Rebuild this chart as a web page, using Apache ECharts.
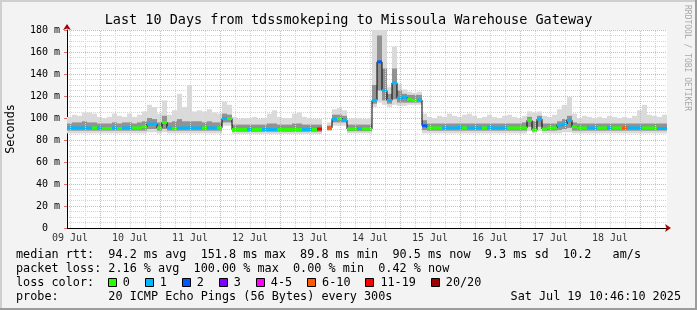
<!DOCTYPE html>
<html><head><meta charset="utf-8">
<script src="https://cdn.jsdelivr.net/npm/echarts@6/dist/echarts.min.js"></script>
<style>html,body{margin:0;padding:0;background:#f3f3f3}#c{width:697px;height:310px}</style>
</head><body><div id="c"></div>
<script>
// time in hours since 09 Jul 00:00
const startHour = 10 + 46/60 + 10/3600;   // Sat Jul 09 10:46:10
const spanHours = 240;                   // 10 days
const binHours = 2;
const dayLabels = ['09 Jul','10 Jul','11 Jul','12 Jul','13 Jul','14 Jul','15 Jul','16 Jul','17 Jul','18 Jul'];
const yMax = 180, yStep = 20;

const median = [
 91,91,91,91,91,91,91,90.5,90.5,91,90.5,91,91,91,91,92,94.5,94.5,91,96,91,90.5,91,91,91,91,91,91,91,91,91,
 99.5,99.5,
 89.5,89.5,89.5,89.5,89.5,89.5,89.5,89.5,89.5,89.5,89.5,89.5,89.5,89.5,89.5,89.5,89.5,
 90,null,91,
 99,99.5,98,
 90,90,90.5,90,90,
 116,151,125,116,132,118,119,117,116,116.5,
 93,
 91,91,91,91,91,91,91.5,91,91,91,91,91,91.5,91,91,91,91,91,91,
 91,98,89,99,90,91,91,93.5,94.5,98,92,
 91,91,91,91,91,91,91,91,91,91,91,91,91,91,91,91,90.5,90.5
];
const loss = [
 1,1,1,1,1,0,1,0,0,1,0,1,1,0,0,0,1,1,0,0,1,0,1,1,1,1,1,0,1,1,0,
 1,0,
 0,0,0,1,0,0,1,1,1,0,0,0,0,0,1,1,0,
 12,20,8,
 1,0,1,
 0,0,1,0,0,
 1,2,1,1,1,1,1,0,0,1,
 2,
 0,0,0,1,1,1,1,0,1,1,1,0,1,1,1,1,0,0,0,
 0,0,0,1,0,0,0,1,1,1,0,
 0,0,1,1,0,0,1,0,0,7,1,1,1,0,0,0,1,1
];
const smokeLo = [
 86,86,86,86,86,86,86,86,86,86,86,86,86,86,86,86,87,87,86,87,86,86,86,86,86,86,86,86,86,86,86,
 93,93,
 85.5,85.5,85.5,85.5,85.5,85.5,85.5,85.5,85.5,85.5,85.5,85.5,85.5,85.5,85.5,85.5,85.5,
 85.5,null,88,
 93,93,93,
 86,86,86,86,86,
 110,114,112,110,112,111,111,112,112,112,
 86,
 86,86,86,86,86,86,86,86,86,86,86,86,86,86,86,86,86,86,86,
 86,88,86,88,86,86,86,86,87,87,86,
 86,86,86,86,86,86,86,86,86,86,86,86,86,86,86,86,86,86
];
const smokeInLo = [
 88.5,88.5,88.5,88.5,88.5,88.5,88.5,88.5,88.5,88.5,88.5,88.5,88.5,88.5,88.5,88.5,90,90,88.5,90,88.5,88.5,88.5,88.5,88.5,88.5,88.5,88.5,88.5,88.5,88.5,
 96,96,
 87.5,87.5,87.5,87.5,87.5,87.5,87.5,87.5,87.5,87.5,87.5,87.5,87.5,87.5,87.5,87.5,87.5,
 87.5,null,89,
 96,96,96,
 88,88,88,88,88,
 113,125,116,113,117,114,114,114,114,114,
 89,
 88.5,88.5,88.5,88.5,88.5,88.5,88.5,88.5,88.5,88.5,88.5,88.5,88.5,88.5,88.5,88.5,88.5,88.5,88.5,
 88.5,92,88,92,88.5,88.5,88.5,89,90,91,88.5,
 88.5,88.5,88.5,88.5,88.5,88.5,88.5,88.5,88.5,88.5,88.5,88.5,88.5,88.5,88.5,88.5,88.5,88.5
];
const smokeInHi = [
 95,96,96,97,96,96,95,95,95,96,95,96,96,95,96,97,100,99,96,102,96,97,99,97,97,97,97,96,97,96,96,
 104,103,
 94,94,94,94,94,94,94,95,95,94,94,94,95,95,94,94,94,
 94,null,93,
 103,103,102,
 94,94,94,94,94,
 130,175,145,122,145,125,122,121,121,121,
 98,
 95,95,95,95,95,95,95,95,95,95,95,95,95,95,95,95,95,95,95,
 96,101,97,102,95,95,95,97,99,102,96,
 95,95,95,95,95,95,95,95,95,95,95,95,95,95,95,95,95,95
];
const smokeHi = [
 101,103,102,105,105,104,101,100,101,104,102,101,104,101,103,106,112,110,104,116,103,107,122,110,130,106,107,106,108,105,104,
 115,112,
 101,99,100,100,101,99,100,104,107,101,100,100,104,105,101,100,99,
 99,null,96,
 108,109,107,
 99,100,100,99,100,
 200,200,200,128,165,131,126,124,123,124,
 104,
 101,100,102,101,104,102,101,103,104,102,100,101,103,101,100,102,103,101,100,
 102,106,105,106,102,101,103,108,112,119,104,
 100,102,101,100,101,100,102,101,100,101,100,102,107,112,103,102,101,103
];

const lossLabels = ['0','1','2','3','4-5','6-10','11-19','20/20'];
const lossColors = ['#26ff00','#00b8ff','#0059ff','#7e00ff','#ff00ff','#ff5a00','#ff0000','#a00000'];
const rttStats = ['94.2','151.8','89.8','90.5','9.3','10.2'];
const lossStats = ['2.16','100.00','0.00','0.42'];
const probeText = '20 ICMP Echo Pings (56 Bytes) every 300s';
const stampText = 'Sat Jul 19 10:46:10 2025';
const titleText = 'Last 10 Days from tdssmokeping to Missoula Warehouse Gateway';

function lossLevel(n){ if(n<=3) return n; if(n<=5) return 4; if(n<=10) return 5; if(n<=19) return 6; return 7; }
const v = x => (x === null ? '-' : x);

const smokeRows = median.map((m,i)=>[startHour+i*binHours, startHour+(i+1)*binHours, v(smokeLo[i]), v(smokeInLo[i]), v(smokeInHi[i]), v(smokeHi[i])]);
const medRows = median.map((m,i)=>[startHour+i*binHours, startHour+(i+1)*binHours, v(m), loss[i]]);
const lineData = median.map((m,i)=>[startHour+(i+0.5)*binHours, v(m)]);

const MAJOR = '#f3a8a8', MINOR = '#d4d4d4';
const gridLines = [];
for (let h = Math.ceil(startHour/6)*6; h < startHour+spanHours; h += 6) {
  const major = h % 24 === 0;
  gridLines.push({xAxis: h, lineStyle: {color: major ? MAJOR : MINOR, type: [1,1], width: 1}});
}
const labelData = dayLabels.map((d,i)=>[12+24*i, 0]);

const MONO = '"DejaVu Sans Mono", monospace';
const FS = 11.8, CW = FS*0.602;

function smokeItem(params, api){
  const lo = api.value(2);
  if (isNaN(lo)) return null;
  const x0 = api.value(0), x1 = api.value(1);
  function rect(a, b, fill){
    const p0 = api.coord([x0, Math.min(a, yMax)]);
    const p1 = api.coord([x1, Math.min(b, yMax)]);
    return {type:'rect', shape:{x:p0[0], y:p1[1], width:p1[0]-p0[0], height:p0[1]-p1[1]}, style:{fill:fill}};
  }
  return {type:'group', children:[rect(lo, api.value(5), '#dadada'), rect(api.value(3), api.value(4), '#929292')]};
}
function medItem(params, api){
  const m = api.value(2);
  if (isNaN(m)) return null;
  const p0 = api.coord([api.value(0), m]);
  const p1 = api.coord([api.value(1), m]);
  return {type:'rect', shape:{x:p0[0], y:p0[1]-1.5, width:p1[0]-p0[0], height:3}, style:{fill: lossColors[lossLevel(api.value(3))]}};
}

// frame, watermark and legend graphics
const graphics = [
  {type:'rect', left:0, top:0, shape:{width:697, height:2}, style:{fill:'#cfcfcf'}, silent:true},
  {type:'rect', left:0, top:0, shape:{width:2, height:310}, style:{fill:'#cfcfcf'}, silent:true},
  {type:'rect', right:0, top:0, shape:{width:2, height:310}, style:{fill:'#9c9c9c'}, silent:true},
  {type:'rect', left:0, bottom:0, shape:{width:697, height:2}, style:{fill:'#9c9c9c'}, silent:true},
  {type:'text', x:687, y:5, rotation:-Math.PI/2, style:{text:'RRDTOOL / TOBI OETIKER', fontFamily:MONO, fontSize:8, fill:'#a8a8a8', align:'left', verticalAlign:'middle'}, silent:true}
];
const lx = 16;
const lines = [
  'median rtt:  '+rttStats[0]+' ms avg  '+rttStats[1]+' ms max  '+rttStats[2]+' ms min  '+rttStats[3]+' ms now  '+rttStats[4]+' ms sd  '+rttStats[5]+'   am/s',
  'packet loss: '+lossStats[0]+' % avg  '+lossStats[1]+' % max  '+lossStats[2]+' % min  '+lossStats[3]+' % now',
  'loss color:',
  'probe:       '+probeText
];
const lineY = [254.5, 268.5, 282.5, 296.5];
lines.forEach((t,i)=>graphics.push({type:'text', x:lx, y:lineY[i], style:{text:t, fontFamily:MONO, fontSize:FS, fill:'#000', align:'left', verticalAlign:'middle'}, silent:true}));
graphics.push({type:'text', x:681, y:lineY[3], style:{text:stampText, fontFamily:MONO, fontSize:FS, fill:'#000', align:'right', verticalAlign:'middle'}, silent:true});
let bx = lx + 13*CW - 0.5;
lossLabels.forEach((lab,i)=>{
  graphics.push({type:'rect', x:Math.round(bx)+0.5, y:278.5, shape:{x:0, y:0, width:8, height:8}, style:{fill:lossColors[i], stroke:'#000', lineWidth:1}, silent:true});
  graphics.push({type:'text', x:bx+15, y:lineY[2], style:{text:lab, fontFamily:MONO, fontSize:FS, fill:'#000', align:'left', verticalAlign:'middle'}, silent:true});
  bx += 15 + lab.length*CW + 14.9;
});

const chart = echarts.init(document.getElementById('c'), null, {renderer:'canvas'});
chart.setOption({
  animation:false,
  backgroundColor:'#f3f3f3',
  title:{text:titleText, left:'center', top:13, padding:0, textStyle:{fontFamily:MONO, fontSize:13.5, fontWeight:'normal', color:'#000'}},
  grid:{left:67, top:30, width:600, height:198, show:true, backgroundColor:'#ffffff', borderWidth:0, containLabel:false, outerBoundsMode:'none'},
  graphic: graphics,
  xAxis:[
    {type:'value', position:'bottom', min:startHour, max:startHour+spanHours, axisLine:{show:true, onZero:false, lineStyle:{color:'#000', width:1}}, axisTick:{show:false}, axisLabel:{show:false}, splitLine:{show:false}},
    {type:'value', position:'bottom', min:startHour, max:startHour+spanHours, axisLine:{show:true, onZero:false, symbol:['none','arrow'], symbolSize:[6,6], symbolOffset:[0,4], lineStyle:{color:'#a00000', width:0}}, axisTick:{show:false}, axisLabel:{show:false}, splitLine:{show:false}}
  ],
  yAxis:[
    {type:'value', min:0, max:yMax, interval:yStep,
     axisLine:{show:true, onZero:false, lineStyle:{color:'#000', width:1}},
     axisTick:{show:true, length:3, lineStyle:{color:'#e07070'}},
     axisLabel:{formatter:(val)=> val===0 ? '0\u00a0\u00a0' : val+' m', fontFamily:MONO, fontSize:10, color:'#000', margin:7},
     splitLine:{show:true, lineStyle:{color:MAJOR, type:[1,1]}},
     minorTick:{show:false, splitNumber:4},
     minorSplitLine:{show:true, lineStyle:{color:MINOR, type:[1,1]}},
     name:'Seconds', nameLocation:'middle', nameGap:50, nameRotate:90,
     nameTextStyle:{fontFamily:MONO, fontSize:FS, color:'#000'}},
    {type:'value', position:'left', min:0, max:yMax, axisLine:{show:true, onZero:false, symbol:['none','arrow'], symbolSize:[6,6], symbolOffset:[0,6], lineStyle:{color:'#a00000', width:0}}, axisTick:{show:false}, axisLabel:{show:false}, splitLine:{show:false}}
  ],
  series:[
    {type:'scatter', z:1, data:labelData, symbolSize:1, itemStyle:{color:'rgba(0,0,0,0)'}, clip:false, silent:true,
     label:{show:true, position:'bottom', distance:4.5, formatter:p=>dayLabels[p.dataIndex], fontFamily:MONO, fontSize:10, color:'#000'},
     markLine:{silent:true, symbol:['none','none'], label:{show:false}, animation:false, data:gridLines}},
    {type:'custom', z:2, data:smokeRows, renderItem:smokeItem, encode:{x:[0,1], y:[2,5]}, silent:true},
    {type:'line', z:3, data:lineData, step:'middle', symbol:'none', connectNulls:false, lineStyle:{color:'#000', width:1}, silent:true},
    {type:'custom', z:4, data:medRows, renderItem:medItem, encode:{x:[0,1], y:2}, silent:true}
  ]
});
</script></body></html>
